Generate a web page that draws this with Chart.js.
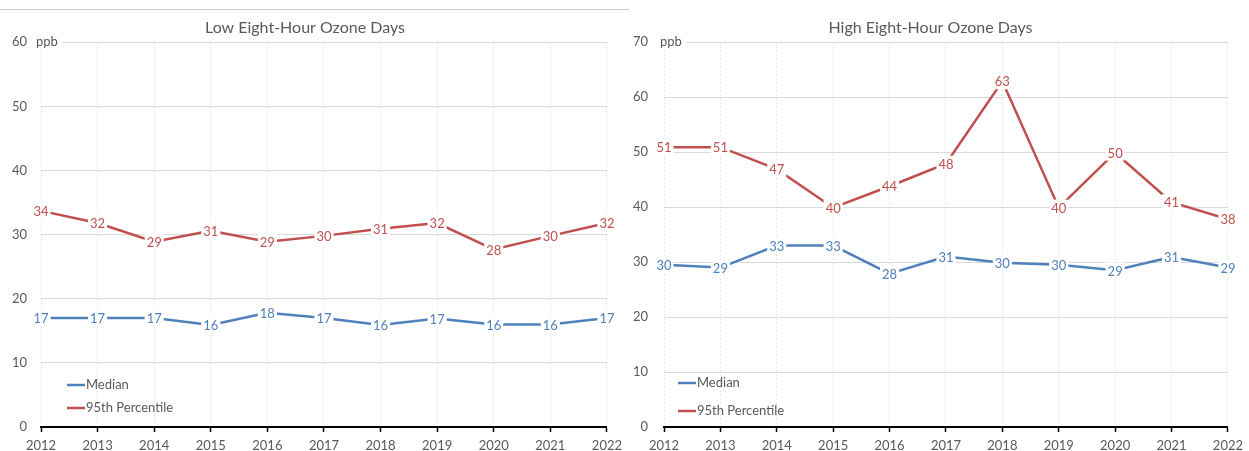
<!DOCTYPE html>
<html>
<head>
<meta charset="utf-8">
<script src="https://cdn.jsdelivr.net/npm/chart.js@4"></script>
<style>
    html, body { margin: 0; padding: 0; background: #fff; }
    #page { position: relative; width: 1249px; height: 451px; overflow: hidden; }
    #topRule { position: absolute; left: 0; top: 9px; width: 629px; height: 1px; background: #c8c8c8; }
    .box { position: absolute; top: 0; height: 451px; }
</style>
</head>
<body>
<div id="page">
    <div class="box" style="left:0;width:628px;"><canvas id="lowChart"></canvas></div>
    <div class="box" style="left:628px;width:621px;"><canvas id="highChart"></canvas></div>
    <div id="topRule"></div>
</div>
<script>
const years = ['2012', '2013', '2014', '2015', '2016', '2017', '2018', '2019', '2020', '2021', '2022'];

const lowMedian = [17.0, 17.0, 17.0, 15.9, 17.8, 17.0, 15.9, 16.9, 16.0, 16.0, 17.0];
const lowP95 = [33.7, 31.8, 28.9, 30.6, 28.9, 29.8, 30.9, 31.8, 27.7, 29.8, 31.8];

const highMedian = [29.5, 29.0, 33.0, 33.0, 27.9, 31.0, 29.9, 29.5, 28.5, 30.9, 29.0];
const highP95 = [50.9, 50.9, 46.9, 39.9, 43.8, 47.9, 62.9, 39.9, 49.9, 40.9, 37.8];

const seriesNames = ['Median', '95th Percentile'];
const FONT = 'Lato, "Open Sans", sans-serif';
const BLUE = '#4f81bd';
const RED = '#c0504d';
const TEXT = '#595959';

// data labels, legend and unit text drawn on top of the chart
const overlayPlugin = {
    id: 'overlay',
    afterDatasetsDraw(chart, args, opts) {
        const ctx = chart.ctx;
        const area = chart.chartArea;
        ctx.save();

        ctx.font = '13px ' + FONT;
        ctx.textAlign = 'center';
        ctx.textBaseline = 'middle';
        chart.data.datasets.forEach((ds, i) => {
            const meta = chart.getDatasetMeta(i);
            meta.data.forEach((pt, j) => {
                const txt = String(Math.round(ds.data[j]));
                const w = ctx.measureText(txt).width + 4;
                ctx.fillStyle = '#fff';
                ctx.fillRect(pt.x - w / 2, pt.y - 8, w, 16);
                ctx.fillStyle = ds.borderColor;
                ctx.fillText(txt, pt.x, pt.y + 1);
            });
        });

        // unit label
        ctx.textAlign = 'left';
        const ux = area.left + opts.unitDx;
        const uw = ctx.measureText('ppb').width;
        ctx.fillStyle = '#fff';
        ctx.fillRect(ux - 1, area.top - 8, uw + 5, 16);
        ctx.fillStyle = TEXT;
        ctx.fillText('ppb', ux, area.top);

        // legend
        chart.data.datasets.forEach((ds, i) => {
            const lx = area.left + opts.legendDx;
            const ly = opts.legendY[i];
            ctx.strokeStyle = ds.borderColor;
            ctx.lineWidth = 2.5;
            ctx.beginPath();
            ctx.moveTo(lx, ly);
            ctx.lineTo(lx + 18, ly);
            ctx.stroke();
            ctx.fillStyle = TEXT;
            ctx.fillText(ds.label, lx + 19, ly);
        });

        ctx.restore();
    },
};

function makeChart(canvasId, title, median, p95, yMax, yWidth, padRight, tickPad, legendOpts) {
    const canvas = document.getElementById(canvasId);

    new Chart(canvas.getContext('2d'), {
        type: 'line',
        data: {
            labels: years,
            datasets: [
                {
                    label: seriesNames[0],
                    data: median,
                    borderColor: BLUE,
                    backgroundColor: BLUE,
                    borderWidth: 2.5,
                    pointRadius: 0,
                    tension: 0,
                },
                {
                    label: seriesNames[1],
                    data: p95,
                    borderColor: RED,
                    backgroundColor: RED,
                    borderWidth: 2.5,
                    pointRadius: 0,
                    tension: 0,
                },
            ],
        },
        options: {
            responsive: true,
            maintainAspectRatio: false,
            animation: false,
            layout: {
                padding: { top: 0, left: 0, right: padRight, bottom: 0 },
            },
            plugins: {
                legend: { display: false },
                tooltip: { enabled: false },
                title: {
                    display: true,
                    text: title,
                    color: TEXT,
                    font: { family: FONT, size: 16, weight: 'normal', lineHeight: 1.2 },
                    padding: { top: 18, bottom: 5 },
                },
                overlay: legendOpts,
            },
            scales: {
                x: {
                    offset: false,
                    grid: {
                        color: '#e4e4e4',
                        tickColor: '#000',
                        tickLength: 5,
                        tickWidth: 1.5,
                    },
                    border: { color: '#000', width: 2, dash: [2, 2] },
                    ticks: {
                        color: TEXT,
                        padding: 6,
                        maxRotation: 0,
                        font: { family: FONT, size: 13 },
                    },
                    afterFit(scale) {
                        scale.height = 24;
                    },
                },
                y: {
                    min: 0,
                    max: yMax,
                    grid: {
                        color: '#d9d9d9',
                        drawTicks: false,
                    },
                    border: { display: false },
                    ticks: {
                        stepSize: 10,
                        color: TEXT,
                        padding: tickPad,
                        font: { family: FONT, size: 13 },
                    },
                    afterFit(scale) {
                        scale.width = yWidth;
                    },
                },
            },
        },
        plugins: [overlayPlugin],
    });
}

makeChart('lowChart', 'Low Eight-Hour Ozone Days', lowMedian, lowP95, 60, 41, 18, 14,
    { unitDx: -5, legendDx: 26, legendY: [385, 408] });
makeChart('highChart', 'High Eight-Hour Ozone Days', highMedian, highP95, 70, 36, 16, 16,
    { unitDx: -4, legendDx: 14, legendY: [383, 411] });
</script>
</body>
</html>
